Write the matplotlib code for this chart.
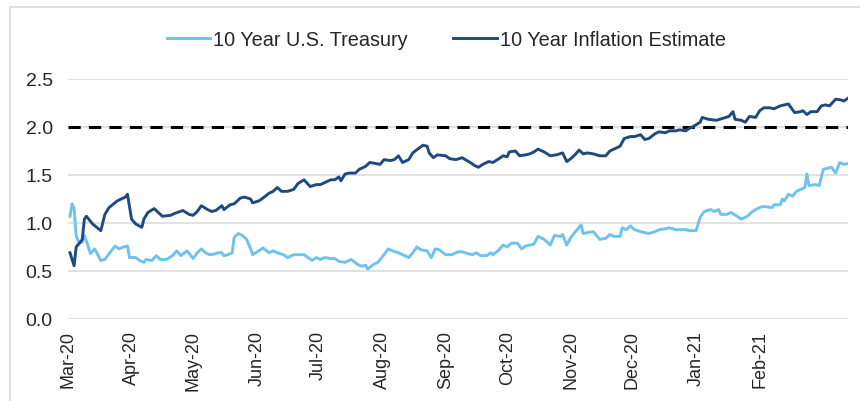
import pandas as pd
import matplotlib.pyplot as plt
import matplotlib.dates as mdates
from matplotlib.lines import Line2D

# 10 Year Inflation Estimate (breakeven)
infl_dates = ['2020-03-02', '2020-03-04', '2020-03-05', '2020-03-07', '2020-03-08', '2020-03-09',
              '2020-03-10', '2020-03-13', '2020-03-17', '2020-03-19', '2020-03-21', '2020-03-25',
              '2020-03-27', '2020-03-29', '2020-03-30', '2020-04-01', '2020-04-03', '2020-04-06',
              '2020-04-07', '2020-04-09', '2020-04-12', '2020-04-13', '2020-04-16', '2020-04-20',
              '2020-04-22', '2020-04-26', '2020-04-29', '2020-05-01', '2020-05-03', '2020-05-05',
              '2020-05-08', '2020-05-10', '2020-05-12', '2020-05-15', '2020-05-16', '2020-05-19',
              '2020-05-21', '2020-05-24', '2020-05-26', '2020-05-29', '2020-05-30', '2020-06-02',
              '2020-06-04', '2020-06-07', '2020-06-09', '2020-06-11', '2020-06-13', '2020-06-16',
              '2020-06-19', '2020-06-21', '2020-06-24', '2020-06-27', '2020-06-30', '2020-07-02',
              '2020-07-04', '2020-07-07', '2020-07-09', '2020-07-11', '2020-07-12', '2020-07-14',
              '2020-07-16', '2020-07-19', '2020-07-21', '2020-07-24', '2020-07-26', '2020-07-29',
              '2020-07-31', '2020-08-02', '2020-08-05', '2020-08-07', '2020-08-09', '2020-08-11',
              '2020-08-14', '2020-08-16', '2020-08-19', '2020-08-21', '2020-08-23', '2020-08-24',
              '2020-08-26', '2020-08-28', '2020-09-01', '2020-09-03', '2020-09-06', '2020-09-09',
              '2020-09-13', '2020-09-15', '2020-09-17', '2020-09-19', '2020-09-22', '2020-09-24',
              '2020-09-27', '2020-09-29', '2020-10-01', '2020-10-02', '2020-10-05', '2020-10-07',
              '2020-10-10', '2020-10-12', '2020-10-14', '2020-10-16', '2020-10-19', '2020-10-22',
              '2020-10-25', '2020-10-28', '2020-10-30', '2020-11-01', '2020-11-03', '2020-11-05',
              '2020-11-07', '2020-11-09', '2020-11-12', '2020-11-15', '2020-11-18', '2020-11-20',
              '2020-11-22', '2020-11-25', '2020-11-27', '2020-11-30', '2020-12-02', '2020-12-05',
              '2020-12-07', '2020-12-09', '2020-12-12', '2020-12-14', '2020-12-17', '2020-12-19',
              '2020-12-22', '2020-12-24', '2020-12-27', '2020-12-29', '2020-12-31', '2021-01-03',
              '2021-01-04', '2021-01-07', '2021-01-11', '2021-01-14', '2021-01-17', '2021-01-19',
              '2021-01-20', '2021-01-23', '2021-01-25', '2021-01-27', '2021-01-30', '2021-02-01',
              '2021-02-03', '2021-02-06', '2021-02-08', '2021-02-11', '2021-02-13', '2021-02-15',
              '2021-02-18', '2021-02-21', '2021-02-22', '2021-02-24', '2021-02-26', '2021-03-01',
              '2021-03-03', '2021-03-05', '2021-03-07', '2021-03-10', '2021-03-13', '2021-03-14',
              '2021-03-16']
infl_values = [0.69, 0.555, 0.75, 0.80, 0.83, 1.04,
               1.07, 0.99, 0.92, 1.09, 1.16, 1.23,
               1.25, 1.27, 1.30, 1.04, 0.99, 0.955,
               1.04, 1.11, 1.15, 1.13, 1.07, 1.08,
               1.10, 1.13, 1.09, 1.08, 1.12, 1.18,
               1.14, 1.12, 1.13, 1.18, 1.14, 1.19,
               1.20, 1.26, 1.27, 1.25, 1.21, 1.23,
               1.26, 1.31, 1.33, 1.37, 1.33, 1.33,
               1.35, 1.41, 1.45, 1.38, 1.40, 1.40,
               1.42, 1.45, 1.45, 1.48, 1.44, 1.51,
               1.52, 1.52, 1.56, 1.59, 1.63, 1.62,
               1.61, 1.66, 1.65, 1.66, 1.70, 1.63,
               1.66, 1.73, 1.78, 1.81, 1.80, 1.73,
               1.68, 1.71, 1.70, 1.67, 1.66, 1.68,
               1.63, 1.60, 1.58, 1.61, 1.64, 1.63,
               1.67, 1.70, 1.69, 1.74, 1.75, 1.70,
               1.71, 1.72, 1.74, 1.77, 1.74, 1.70,
               1.71, 1.73, 1.64, 1.67, 1.71, 1.76,
               1.72, 1.73, 1.72, 1.70, 1.70, 1.75,
               1.77, 1.80, 1.88, 1.90, 1.90, 1.92,
               1.87, 1.88, 1.93, 1.95, 1.94, 1.96,
               1.96, 1.97, 1.96, 1.99, 2.01, 2.05,
               2.10, 2.08, 2.07, 2.09, 2.11, 2.16,
               2.08, 2.07, 2.05, 2.11, 2.10, 2.17,
               2.20, 2.20, 2.19, 2.22, 2.23, 2.24,
               2.15, 2.16, 2.17, 2.13, 2.16, 2.16,
               2.22, 2.23, 2.22, 2.29, 2.28, 2.27,
               2.30]

# 10 Year U.S. Treasury yield
tsy_dates = ['2020-03-02', '2020-03-03', '2020-03-04', '2020-03-05', '2020-03-06', '2020-03-08',
             '2020-03-09', '2020-03-10', '2020-03-12', '2020-03-14', '2020-03-17', '2020-03-19',
             '2020-03-21', '2020-03-24', '2020-03-26', '2020-03-28', '2020-03-30', '2020-03-31',
             '2020-04-03', '2020-04-05', '2020-04-07', '2020-04-08', '2020-04-11', '2020-04-13',
             '2020-04-15', '2020-04-18', '2020-04-21', '2020-04-23', '2020-04-25', '2020-04-28',
             '2020-05-01', '2020-05-03', '2020-05-05', '2020-05-07', '2020-05-09', '2020-05-12',
             '2020-05-13', '2020-05-15', '2020-05-16', '2020-05-18', '2020-05-20', '2020-05-21',
             '2020-05-23', '2020-05-25', '2020-05-27', '2020-05-29', '2020-05-30', '2020-06-02',
             '2020-06-04', '2020-06-07', '2020-06-09', '2020-06-11', '2020-06-14', '2020-06-16',
             '2020-06-19', '2020-06-21', '2020-06-24', '2020-06-26', '2020-06-28', '2020-06-30',
             '2020-07-02', '2020-07-04', '2020-07-07', '2020-07-09', '2020-07-11', '2020-07-14',
             '2020-07-17', '2020-07-20', '2020-07-22', '2020-07-24', '2020-07-25', '2020-07-28',
             '2020-07-30', '2020-08-02', '2020-08-04', '2020-08-06', '2020-08-09', '2020-08-11',
             '2020-08-14', '2020-08-16', '2020-08-18', '2020-08-20', '2020-08-23', '2020-08-25',
             '2020-08-27', '2020-08-29', '2020-09-01', '2020-09-04', '2020-09-07', '2020-09-09',
             '2020-09-12', '2020-09-14', '2020-09-16', '2020-09-18', '2020-09-21', '2020-09-23',
             '2020-09-24', '2020-09-27', '2020-09-29', '2020-10-01', '2020-10-03', '2020-10-06',
             '2020-10-08', '2020-10-10', '2020-10-14', '2020-10-16', '2020-10-19', '2020-10-22',
             '2020-10-24', '2020-10-27', '2020-10-28', '2020-10-30', '2020-11-01', '2020-11-04',
             '2020-11-06', '2020-11-07', '2020-11-09', '2020-11-12', '2020-11-15', '2020-11-18',
             '2020-11-20', '2020-11-22', '2020-11-25', '2020-11-26', '2020-11-28', '2020-11-30',
             '2020-12-02', '2020-12-05', '2020-12-07', '2020-12-09', '2020-12-12', '2020-12-14',
             '2020-12-17', '2020-12-19', '2020-12-22', '2020-12-24', '2020-12-27', '2020-12-29',
             '2021-01-01', '2021-01-03', '2021-01-05', '2021-01-08', '2021-01-10', '2021-01-12',
             '2021-01-13', '2021-01-16', '2021-01-18', '2021-01-21', '2021-01-23', '2021-01-26',
             '2021-01-28', '2021-01-30', '2021-02-02', '2021-02-04', '2021-02-07', '2021-02-08',
             '2021-02-11', '2021-02-12', '2021-02-13', '2021-02-15', '2021-02-17', '2021-02-19',
             '2021-02-21', '2021-02-23', '2021-02-24', '2021-02-25', '2021-02-28', '2021-03-02',
             '2021-03-04', '2021-03-06', '2021-03-08', '2021-03-10', '2021-03-12', '2021-03-14',
             '2021-03-16']
tsy_values = [1.07, 1.20, 1.15, 0.87, 0.81, 0.80,
              0.87, 0.81, 0.68, 0.73, 0.61, 0.62,
              0.68, 0.76, 0.73, 0.75, 0.76, 0.64,
              0.64, 0.61, 0.59, 0.62, 0.61, 0.66,
              0.62, 0.62, 0.66, 0.71, 0.66, 0.71,
              0.63, 0.69, 0.73, 0.69, 0.67, 0.68,
              0.69, 0.69, 0.66, 0.67, 0.69, 0.85,
              0.89, 0.87, 0.83, 0.73, 0.67, 0.71,
              0.74, 0.69, 0.71, 0.69, 0.67, 0.64,
              0.67, 0.67, 0.67, 0.64, 0.61, 0.64,
              0.62, 0.64, 0.63, 0.63, 0.60, 0.59,
              0.62, 0.57, 0.55, 0.56, 0.52, 0.57,
              0.59, 0.67, 0.73, 0.71, 0.69, 0.67,
              0.64, 0.69, 0.75, 0.72, 0.71, 0.64,
              0.73, 0.72, 0.67, 0.67, 0.70, 0.70,
              0.68, 0.67, 0.69, 0.66, 0.66, 0.69,
              0.67, 0.72, 0.77, 0.75, 0.79, 0.79,
              0.73, 0.76, 0.78, 0.86, 0.83, 0.77,
              0.87, 0.86, 0.88, 0.77, 0.85, 0.93,
              0.98, 0.89, 0.90, 0.91, 0.83, 0.84,
              0.88, 0.86, 0.86, 0.95, 0.93, 0.97,
              0.93, 0.91, 0.90, 0.89, 0.91, 0.93,
              0.94, 0.95, 0.93, 0.93, 0.93, 0.92,
              0.92, 1.06, 1.12, 1.14, 1.12, 1.14,
              1.09, 1.09, 1.11, 1.07, 1.04, 1.07,
              1.11, 1.14, 1.17, 1.17, 1.16, 1.19,
              1.19, 1.25, 1.23, 1.30, 1.28, 1.33,
              1.35, 1.37, 1.51, 1.39, 1.40, 1.39,
              1.56, 1.57, 1.58, 1.52, 1.63, 1.61,
              1.62]

target = 2.0
month_ticks = ['2020-03-01', '2020-04-01', '2020-05-01', '2020-06-01', '2020-07-01', '2020-08-01',
               '2020-09-01', '2020-10-01', '2020-11-01', '2020-12-01', '2021-01-01', '2021-02-01']
y_ticks = [0.0, 0.5, 1.0, 1.5, 2.0, 2.5]

plt.rcParams['font.family'] = ['Liberation Sans', 'DejaVu Sans']
text_col = '#262626'

fig = plt.figure(figsize=(8.6, 4.02), dpi=100)
ax = fig.add_axes([0.079, 0.204, 0.907, 0.597])

ax.plot(pd.to_datetime(tsy_dates), tsy_values, color='#70C2EE', lw=2.1,
        label='10 Year U.S. Treasury', zorder=3)
ax.plot(pd.to_datetime(infl_dates), infl_values, color='#1F4A7E', lw=2.1,
        label='10 Year Inflation Estimate', zorder=4)
ax.axhline(target, color='black', lw=2.2, linestyle=(0, (4, 2.7)), zorder=2)

ax.set_xlim(pd.Timestamp('2020-03-01'), pd.Timestamp('2021-03-16'))
ax.set_ylim(0, 2.5)
ax.set_yticks(y_ticks)
ax.yaxis.set_major_formatter(plt.FuncFormatter(lambda v, _: f'{v:.1f}'))
ax.set_xticks(pd.to_datetime(month_ticks))
ax.xaxis.set_major_formatter(mdates.DateFormatter('%b-%y'))
plt.setp(ax.get_xticklabels(), rotation=90)

ax.grid(axis='y', color='#D9D9D9', lw=1.1, zorder=0)
ax.grid(axis='x', visible=False)
for s in ax.spines.values():
    s.set_visible(False)
ax.tick_params(axis='both', length=0, colors=text_col)
ax.tick_params(axis='y', labelsize=14, pad=11)
ax.tick_params(axis='x', labelsize=13, pad=8)

ax.legend(loc='center', bbox_to_anchor=(0.519, 0.90), bbox_transform=fig.transFigure,
          ncol=2, frameon=False, fontsize=14.3, handlelength=2.2, handletextpad=0.15,
          columnspacing=2.3, labelcolor=text_col)

# thin frame around the chart area (left and top edges visible)
fig.add_artist(Line2D([10 / 860, 10 / 860], [0, 1 - 8 / 402], color='#D9D9D9', lw=1.2))
fig.add_artist(Line2D([10 / 860, 1], [1 - 8 / 402, 1 - 8 / 402], color='#D9D9D9', lw=1.2))

fig.savefig('out.png', dpi=100)
